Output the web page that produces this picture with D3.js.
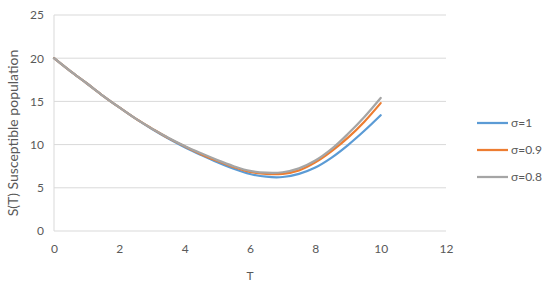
<!DOCTYPE html>
<html>
<head>
<meta charset="utf-8">
<script src="https://cdn.jsdelivr.net/npm/d3@7"></script>
<style>
  body { margin: 0; background: #fff; }
  svg text { font-family: Lato, "Open Sans", sans-serif; fill: #595959; }
</style>
</head>
<body>
<svg id="svg" width="550" height="285"></svg>
<script>
const $svg = d3.select('#svg')

// data
const T = [0, 0.5, 1, 1.5, 2, 2.5, 3, 3.5, 4, 4.5, 5, 5.5, 6, 6.5, 7, 7.5, 8, 8.5, 9, 9.5, 10]
const sigma1 = [20, 18.5, 17.1, 15.65, 14.3, 13.0, 11.8, 10.7, 9.7, 8.8, 7.95, 7.2, 6.6, 6.28, 6.25, 6.62, 7.35, 8.5, 9.95, 11.6, 13.4]
const sigma09 = [20, 18.5, 17.1, 15.65, 14.3, 13.0, 11.85, 10.75, 9.8, 8.9, 8.1, 7.4, 6.85, 6.6, 6.62, 7.02, 7.95, 9.25, 10.8, 12.65, 14.8]
const sigma08 = [20, 18.5, 17.1, 15.65, 14.3, 13.0, 11.85, 10.8, 9.85, 9.0, 8.2, 7.5, 6.95, 6.75, 6.8, 7.25, 8.15, 9.5, 11.25, 13.2, 15.4]
const seriesNames = ['σ=1', 'σ=0.9', 'σ=0.8']
const xTicks = [0, 2, 4, 6, 8, 10, 12]
const yTicks = [0, 5, 10, 15, 20, 25]

const colors = ['#5B9BD5', '#ED7D31', '#A5A5A5']
const series = [sigma1, sigma09, sigma08]

const x = d3.scaleLinear().domain([0, 12]).range([54, 446])
const y = d3.scaleLinear().domain([0, 25]).range([231, 15])

// gridlines
$svg.append('g')
	.selectAll('line')
	.data(yTicks)
	.join('line')
	.attr('x1', x(0))
	.attr('x2', x(12))
	.attr('y1', d => y(d))
	.attr('y2', d => y(d))
	.attr('stroke', '#D9D9D9')
	.attr('stroke-width', 1)

// left axis line
$svg.append('line')
	.attr('x1', x(0)).attr('x2', x(0))
	.attr('y1', y(0)).attr('y2', y(25))
	.attr('stroke', '#D9D9D9')

// y tick labels
const yAxis = $svg.append('g')
	.attr('transform', `translate(${x(0)},0)`)
	.call(d3.axisLeft(y).tickValues(yTicks).tickSize(0).tickPadding(10))
yAxis.select('.domain').remove()
yAxis.selectAll('text').style('font-size', '12px').attr('fill', '#595959')

// x tick labels
const xAxis = $svg.append('g')
	.attr('transform', `translate(0,${y(0)})`)
	.call(d3.axisBottom(x).tickValues(xTicks).tickSize(0).tickPadding(13))
xAxis.select('.domain').remove()
xAxis.selectAll('text').style('font-size', '12px').attr('fill', '#595959')

// axis titles
$svg.append('text')
	.attr('x', x(6))
	.attr('y', 280)
	.attr('text-anchor', 'middle')
	.style('font-size', '12px')
	.text('T')

$svg.append('text')
	.attr('transform', `translate(18,${(y(0) + y(25)) / 2 + 10}) rotate(-90)`)
	.attr('text-anchor', 'middle')
	.style('font-size', '14px')
	.text('S(T) Susceptible population')

// lines
const line = d3.line()
	.x((d, i) => x(T[i]))
	.y(d => y(d))
	.curve(d3.curveCatmullRom)

series.forEach((data, i) => {
	$svg.append('path')
		.attr('d', line(data))
		.attr('fill', 'none')
		.attr('stroke', colors[i])
		.attr('stroke-width', 2.25)
		.attr('stroke-linecap', 'round')
})

// legend
const legend = $svg.append('g')
	.selectAll('g')
	.data(seriesNames)
	.join('g')
	.attr('transform', (d, i) => `translate(477,${123 + i * 27})`)

legend.append('line')
	.attr('x1', 0).attr('x2', 31)
	.attr('stroke', (d, i) => colors[i])
	.attr('stroke-width', 2.25)

legend.append('text')
	.attr('x', 34)
	.attr('dy', '0.35em')
	.style('font-size', '12px')
	.text(d => d)
</script>
</body>
</html>
